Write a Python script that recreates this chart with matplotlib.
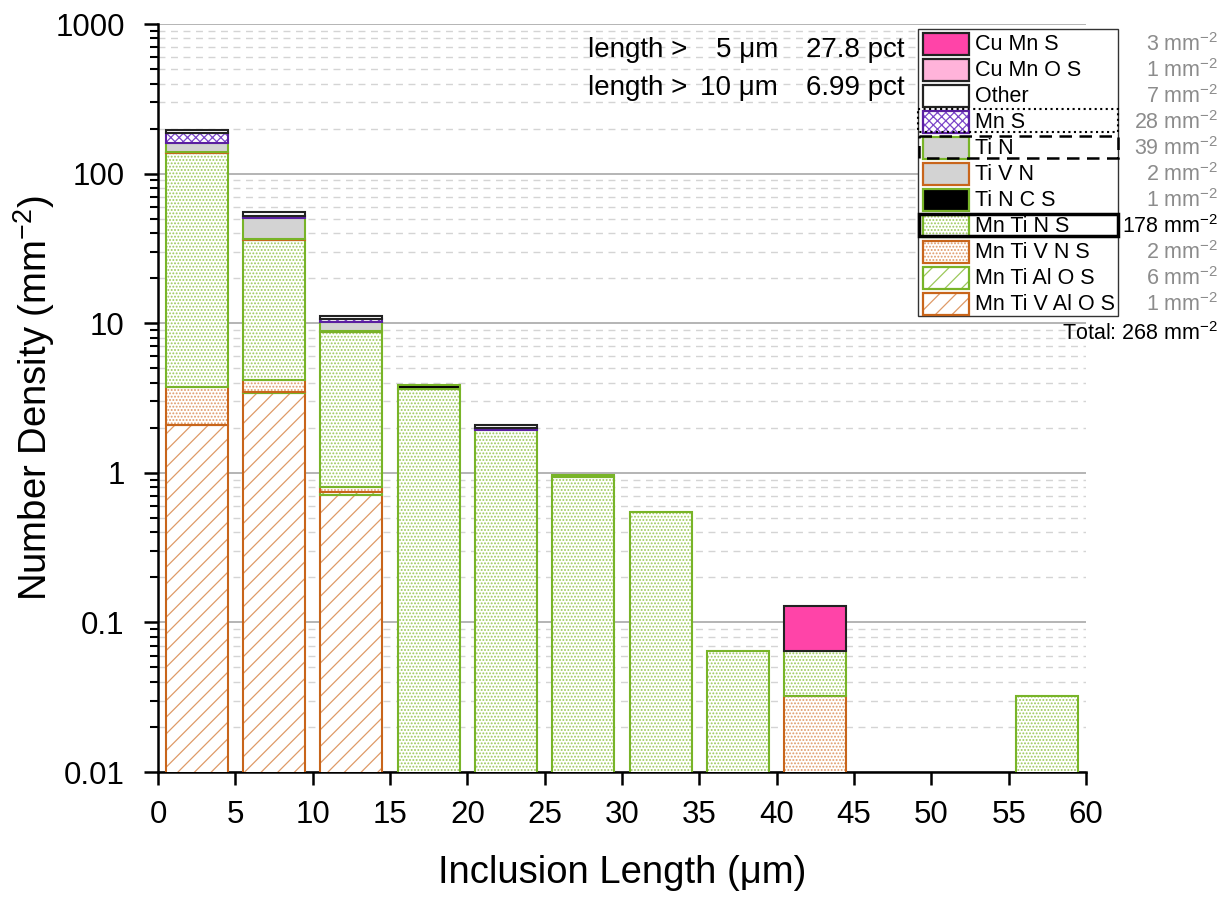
import numpy as np
import matplotlib.pyplot as plt
from matplotlib.patches import Rectangle
from matplotlib.ticker import LogLocator, NullFormatter

plt.rcParams['font.family'] = ['Liberation Sans', 'DejaVu Sans']
plt.rcParams['mathtext.fontset'] = 'custom'
plt.rcParams['mathtext.rm'] = 'Liberation Sans'
plt.rcParams['mathtext.it'] = 'Liberation Sans:italic'
plt.rcParams['mathtext.bf'] = 'Liberation Sans:bold'
plt.rcParams['hatch.linewidth'] = 0.9

# bin centres (um), 5 um bins
centers = np.arange(2.5, 60, 5)

# number density per bin (mm^-2), stacked bottom -> top
mn_ti_v_al_o_s = [2.09, 3.42, 0.71, 0, 0, 0, 0, 0, 0, 0, 0, 0]
mn_ti_al_o_s = [0, 0.05, 0.03, 0, 0, 0, 0, 0, 0, 0, 0, 0]
mn_ti_v_n_s = [1.66, 0.67, 0.06, 0, 0, 0, 0, 0, 0.0323, 0, 0, 0]
mn_ti_n_s = [133.2, 32.0, 7.99, 3.64, 1.94, 0.936, 0.549, 0.0646, 0.0323, 0, 0, 0.0323]
ti_n_c_s = [0.3, 0.1, 0.05, 0.24, 0, 0.0323, 0, 0, 0, 0, 0, 0]
ti_v_n = [1.3, 0.5, 0.05, 0, 0, 0, 0, 0, 0, 0, 0, 0]
ti_n = [21.4, 13.7, 1.36, 0, 0, 0, 0, 0, 0, 0, 0, 0]
mn_s = [27.0, 1.8, 0.5, 0, 0.06, 0, 0, 0, 0, 0, 0, 0]
other = [8.0, 3.5, 0.45, 0, 0.1, 0, 0, 0, 0, 0, 0, 0]
cu_mn_o_s = [0, 0, 0, 0, 0, 0, 0, 0, 0, 0, 0, 0]
cu_mn_s = [0, 0, 0, 0, 0, 0, 0, 0, 0.0646, 0, 0, 0]

# legend order (top -> bottom) and total densities
labels = ['Cu Mn S', 'Cu Mn O S', 'Other', 'Mn S', 'Ti N', 'Ti V N', 'Ti N C S',
          'Mn Ti N S', 'Mn Ti V N S', 'Mn Ti Al O S', 'Mn Ti V Al O S']
totals = ['3', '1', '7', '28', '39', '2', '1', '178', '2', '6', '1']
series = [cu_mn_s, cu_mn_o_s, other, mn_s, ti_n, ti_v_n, ti_n_c_s,
          mn_ti_n_s, mn_ti_v_n_s, mn_ti_al_o_s, mn_ti_v_al_o_s]

GREEN = '#78B428'
GREEN_L = '#9CC85A'
ORANGE = '#C8651B'
ORANGE_L = '#DE9A68'
# face, hatch, hatch colour, edge
styles = [
    ('#FF44A8', None, None, '#222222'),
    ('#FFB3DA', None, None, '#222222'),
    ('white', None, None, '#222222'),
    ('white', 'xxxx', '#7B45C8', '#5A1FA0'),
    ('#D3D3D3', None, None, GREEN),
    ('#D3D3D3', None, None, ORANGE),
    ('black', None, None, GREEN),
    ('white', '.....', GREEN_L, GREEN),
    ('white', '.....', ORANGE_L, ORANGE),
    ('white', '//', GREEN_L, GREEN),
    ('white', '//', ORANGE_L, ORANGE),
]

fig = plt.figure(figsize=(12.3, 8.98), dpi=100)
ax = fig.add_axes([158 / 1230, 1 - 772 / 898, 928 / 1230, 748 / 898])


def draw_seg(a, x, y, w, h, face, hatch, hcol, edge, lw=1.5, **kw):
    if hatch:
        a.bar(x, h, w, bottom=y, color=face, hatch=hatch, edgecolor=hcol, linewidth=0, **kw)
        a.bar(x, h, w, bottom=y, fill=False, edgecolor=edge, linewidth=lw, **kw)
    else:
        a.bar(x, h, w, bottom=y, color=face, edgecolor=edge, linewidth=lw, **kw)


bottom = np.zeros(len(centers))
for vals, st in zip(series[::-1], styles[::-1]):
    vals = np.array(vals, dtype=float)
    for i, v in enumerate(vals):
        if v > 0:
            base = bottom[i] if bottom[i] > 0 else 0.001
            draw_seg(ax, centers[i], base, 4, bottom[i] + v - base, *st, zorder=3)
    bottom += vals

ax.set_yscale('log')
ax.set_ylim(0.01, 1000)
ax.set_xlim(0, 60)
ax.set_xticks(np.arange(0, 61, 5))
ax.set_yticks([0.01, 0.1, 1, 10, 100, 1000], ['0.01', '0.1', '1', '10', '100', '1000'])
ax.yaxis.set_minor_locator(LogLocator(base=10, subs=np.arange(2, 10)))
ax.yaxis.set_minor_formatter(NullFormatter())
ax.set_axisbelow(True)
ax.yaxis.grid(True, which='major', color='#A8A8A8', lw=1.2)
ax.yaxis.grid(True, which='minor', color='#D4D4D4', lw=1, ls=(0, (5, 4)))

for s in ['top', 'right']:
    ax.spines[s].set_visible(False)
for s in ['left', 'bottom']:
    ax.spines[s].set_linewidth(1.8)
ax.tick_params(axis='x', which='major', direction='out', length=9.5, width=1.8, labelsize=22.5, pad=11)
ax.tick_params(axis='y', which='major', direction='out', length=10, width=1.8, labelsize=22.5, pad=14)
ax.tick_params(axis='y', which='minor', direction='out', length=6, width=1.5)

ax.set_xlabel('Inclusion Length (μm)', fontsize=27.5, labelpad=18)
ax.set_ylabel('Number Density (mm$^{-2}$)', fontsize=27.5)
ax.yaxis.set_label_coords((57 - 158) / 928, 0.5)

# annotations
def fx(px):
    return px / 1230


def fy(py):
    return 1 - py / 898


for py, num, pct in [(50, '5 μm', '27.8 pct'), (88, '10 μm', '6.99 pct')]:
    fig.text(fx(588), fy(py), 'length >', fontsize=20, va='center')
    fig.text(fx(778), fy(py), num, fontsize=20, va='center', ha='right')
    fig.text(fx(905), fy(py), pct, fontsize=20, va='center', ha='right')

# hand-built legend
lax = fig.add_axes([0, 0, 1, 1], facecolor='none')
lax.set_xlim(0, 1230)
lax.set_ylim(898, 0)
lax.axis('off')
lax.add_patch(Rectangle((918, 29), 200, 287, facecolor='white', edgecolor='#333333', lw=1))
for i, (lab, tot, st) in enumerate(zip(labels, totals, styles)):
    yc = 44 + 26 * i
    draw_seg(lax, 946, yc - 11, 46, 22, *st, lw=1.6)
    lax.text(975, yc + 1, lab, fontsize=15.5, va='center')
    col = 'black' if lab == 'Mn Ti N S' else '#8C8C8C'
    lax.text(1218, yc + 1, tot + ' mm$^{-2}$', fontsize=15.5, va='center', ha='right', color=col)
lax.text(1218, 334, 'Total: 268 mm$^{-2}$', fontsize=15.5, va='center', ha='right')

lax.add_patch(Rectangle((918, 109), 200, 23, fill=False, edgecolor='black', lw=1.5, ls=':'))
lax.add_patch(Rectangle((919, 136), 199, 22, fill=False, edgecolor='black', lw=1.8, ls=(0, (5, 3))))
lax.add_patch(Rectangle((919, 214), 199, 22, fill=False, edgecolor='black', lw=2.5))

fig.savefig('out.png', dpi=100)
